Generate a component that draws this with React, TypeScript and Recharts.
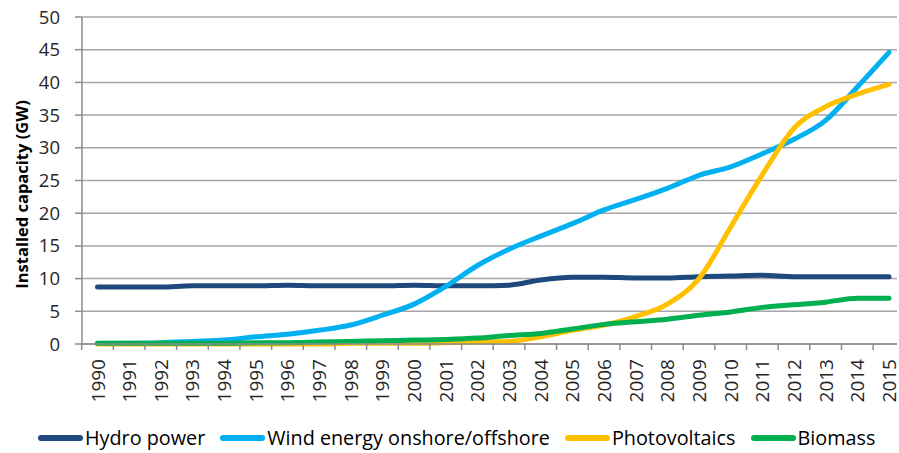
import React from 'react';
import { LineChart, Line, XAxis, YAxis, CartesianGrid, Legend, Label } from 'recharts';

const years = [
  '1990', '1991', '1992', '1993', '1994', '1995', '1996', '1997', '1998', '1999', '2000', '2001', '2002',
  '2003', '2004', '2005', '2006', '2007', '2008', '2009', '2010', '2011', '2012', '2013', '2014', '2015',
];
const hydro = [8.7, 8.7, 8.7, 8.9, 8.9, 8.9, 9.0, 8.9, 8.9, 8.9, 9.0, 8.9, 8.9, 9.0, 9.8, 10.2, 10.2, 10.1, 10.1, 10.3, 10.4, 10.5, 10.3, 10.3, 10.3, 10.3];
const wind = [0.06, 0.1, 0.2, 0.4, 0.6, 1.1, 1.5, 2.1, 2.9, 4.4, 6.1, 8.8, 12.0, 14.5, 16.5, 18.4, 20.5, 22.1, 23.8, 25.8, 27.1, 29.1, 31.3, 34.2, 39.3, 44.6];
const pv = [0, 0, 0, 0, 0, 0, 0, 0, 0.1, 0.1, 0.1, 0.2, 0.3, 0.4, 1.1, 2.1, 2.9, 4.2, 6.1, 10.0, 17.9, 25.9, 33.0, 36.3, 38.2, 39.7];
const biomass = [0.1, 0.1, 0.1, 0.1, 0.1, 0.2, 0.2, 0.3, 0.4, 0.5, 0.6, 0.7, 0.9, 1.3, 1.6, 2.3, 3.0, 3.4, 3.8, 4.4, 4.9, 5.6, 6.0, 6.4, 7.0, 7.0];
const yTicks = [0, 5, 10, 15, 20, 25, 30, 35, 40, 45, 50];

const series = [
  { key: 'hydro', name: 'Hydro power', color: '#1F497D' },
  { key: 'wind', name: 'Wind energy onshore/offshore', color: '#00B0F0' },
  { key: 'pv', name: 'Photovoltaics', color: '#FFC000' },
  { key: 'biomass', name: 'Biomass', color: '#00B050' },
];

const data = years.map((year, i) => ({
  year,
  hydro: hydro[i],
  wind: wind[i],
  pv: pv[i],
  biomass: biomass[i],
}));

const FONT = '"Open Sans", sans-serif';
const AXIS_GRAY = '#8c8c8c';
const HALF_STEP = 15.85;

// Excel-style category tick: mark sits between categories, label rotated
const YearTick = (props: any) => {
  const { x, y, payload } = props;
  return (
    <g>
      <line x1={x - HALF_STEP} y1={y} x2={x - HALF_STEP} y2={y + 6} stroke={AXIS_GRAY} strokeWidth={1.5} />
      <text
        transform={`translate(${x},${y + 15}) rotate(-90)`}
        textAnchor="end"
        dominantBaseline="central"
        fontFamily={FONT}
        fontSize={19}
        fill="#262626"
      >
        {payload.value}
      </text>
    </g>
  );
};

const YTitle = (props: any) => {
  const { viewBox } = props;
  const cx = viewBox.x + 21;
  const cy = viewBox.y + viewBox.height / 2 + 14;
  return (
    <text
      transform={`translate(${cx},${cy}) rotate(-90)`}
      textAnchor="middle"
      dominantBaseline="central"
      fontFamily={FONT}
      fontWeight="bold"
      fontSize={16.5}
      fill="#000"
    >
      Installed capacity (GW)
    </text>
  );
};

// legend keeps the series order (not sorted)
const LegendContent = () => (
  <div style={{ display: 'flex', alignItems: 'center', height: 31, paddingTop: 12, paddingLeft: 38 }}>
    {series.map((s) => (
      <div key={s.key} style={{ display: 'flex', alignItems: 'center', marginRight: 15 }}>
        <div style={{ width: 45, height: 6, borderRadius: 3, backgroundColor: s.color }} />
        <span style={{ fontFamily: FONT, fontSize: 19.8, color: '#000', marginLeft: 2, whiteSpace: 'nowrap' }}>
          {s.name}
        </span>
      </div>
    ))}
  </div>
);

const App: React.FC = () => {
  return (
    <div style={{ position: 'absolute', left: 0, top: 0, width: 899, height: 453, background: '#fff' }}>
      <LineChart width={899} height={453} data={data} margin={{ top: 17, right: 2, bottom: 0, left: 0 }}>
        <CartesianGrid vertical={false} stroke="#a6a6a6" strokeWidth={1.5} />
        <XAxis
          dataKey="year"
          interval={0}
          height={66}
          padding={{ left: 15.5, right: 8 }}
          tickLine={false}
          tickSize={0}
          tickMargin={0}
          tick={<YearTick />}
          axisLine={{ stroke: AXIS_GRAY, strokeWidth: 1.5 }}
        />
        <YAxis
          width={82}
          domain={[0, 50]}
          ticks={yTicks}
          interval={0}
          tickSize={7}
          tickMargin={15}
          tickLine={{ stroke: AXIS_GRAY, strokeWidth: 1.5 }}
          axisLine={{ stroke: AXIS_GRAY, strokeWidth: 1.5 }}
          tick={{ fontFamily: FONT, fontSize: 18.5, fill: '#262626' }}
        >
          <Label content={<YTitle />} />
        </YAxis>
        <Legend verticalAlign="bottom" height={43} content={<LegendContent />} />
        {series.map((s) => (
          <Line
            key={s.key}
            type="monotone"
            dataKey={s.key}
            name={s.name}
            stroke={s.color}
            strokeWidth={5}
            strokeLinecap="round"
            strokeLinejoin="round"
            dot={false}
            activeDot={false}
            isAnimationActive={false}
          />
        ))}
      </LineChart>
    </div>
  );
};

export default App;
